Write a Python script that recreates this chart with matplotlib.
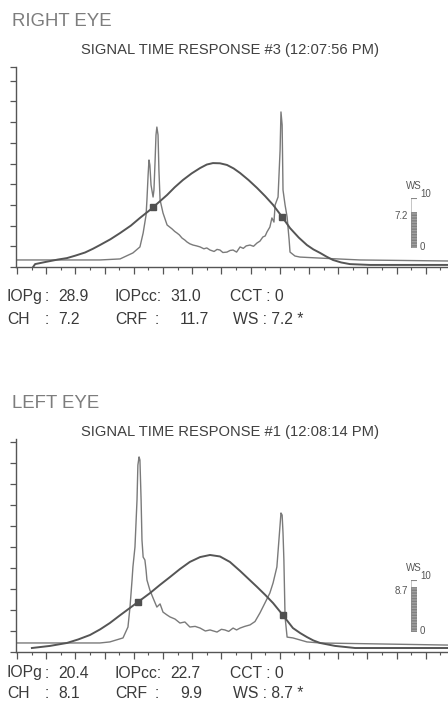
import matplotlib
matplotlib.use("Agg")
import matplotlib.pyplot as plt
from matplotlib.patches import Rectangle
from matplotlib.ticker import MultipleLocator

plt.rcParams['font.family'] = ['Liberation Sans', 'DejaVu Sans']

W, H = 448, 703

# ---------------- RIGHT EYE data ----------------
r_sig_t = [0.00, 1.47, 2.84, 3.53, 3.97, 4.21, 4.32, 4.42, 4.45, 4.49, 4.52, 4.55, 4.59, 4.66,
           4.69, 4.73, 4.76, 4.79, 4.83, 4.86, 4.90, 5.00, 5.14, 5.31, 5.40, 5.48, 5.56, 5.65,
           5.75, 5.82, 5.92, 6.03, 6.15, 6.27, 6.40, 6.50, 6.61, 6.75, 6.85, 6.95, 7.05, 7.19,
           7.30, 7.40, 7.52, 7.64, 7.75, 7.85, 7.98, 8.10, 8.22, 8.32, 8.42, 8.50, 8.56, 8.66,
           8.73, 8.80, 8.84, 8.94, 9.01, 9.04, 9.08, 9.11, 9.18, 9.25, 9.32, 9.35, 9.52, 9.69,
           10.38, 11.75, 14.76]
r_sig_v = [0.34, 0.34, 0.34, 0.39, 0.68, 0.97, 1.64, 2.51, 3.24, 4.44, 5.17, 4.93, 3.96, 3.38,
           3.72, 5.17, 6.38, 6.76, 6.38, 4.69, 3.24, 2.61, 2.03, 1.84, 1.72, 1.64, 1.55, 1.40,
           1.30, 1.21, 1.12, 1.06, 1.02, 0.97, 0.88, 0.92, 0.82, 0.75, 0.85, 0.82, 0.70, 0.72,
           0.80, 0.82, 0.72, 0.97, 0.90, 1.02, 1.06, 1.00, 1.16, 1.25, 1.45, 1.50, 1.69, 1.93,
           2.37, 2.17, 3.00, 3.38, 5.65, 7.49, 6.86, 3.72, 3.00, 2.42, 1.30, 0.72, 0.53, 0.48,
           0.43, 0.34, 0.29]
r_pres_t = [0.55, 0.62, 1.00, 1.40, 1.71, 2.00, 2.33, 2.60, 2.84, 3.20, 3.53, 3.90, 4.21,
            4.55, 4.85, 5.14, 5.40, 5.68, 5.98, 6.27, 6.50, 6.71, 6.95, 7.19, 7.42, 7.64,
            7.93, 8.22, 8.50, 8.77, 9.08, 9.35, 9.65, 9.93, 10.15, 10.38, 10.60, 10.82,
            11.10, 11.40, 12.09, 14.76]
r_pres_v = [0.00, 0.14, 0.25, 0.36, 0.43, 0.55, 0.70, 0.88, 1.06, 1.34, 1.64, 2.00, 2.37,
            2.75, 3.12, 3.48, 3.85, 4.20, 4.52, 4.78, 4.95, 5.02, 5.01, 4.93, 4.76, 4.54,
            4.20, 3.82, 3.42, 3.00, 2.42, 1.88, 1.42, 1.06, 0.85, 0.68, 0.50, 0.34,
            0.22, 0.14, 0.10, 0.10]
r_marker_t = [4.66, 9.08]
r_marker_v = [2.88, 2.42]
r_ws = 7.2
r_header = "RIGHT EYE"
r_title = "SIGNAL TIME RESPONSE #3 (12:07:56 PM)"
r_values = [["28.9", "31.0", "0"], ["7.2", "11.7", "7.2 *"]]

# ---------------- LEFT EYE data ----------------
l_sig_t = [0.00, 1.47, 2.84, 3.18, 3.63, 3.80, 3.87, 3.94, 3.97, 4.04, 4.11, 4.14, 4.18, 4.21,
           4.25, 4.28, 4.32, 4.38, 4.42, 4.45, 4.55, 4.66, 4.79, 4.90, 5.00, 5.14, 5.24, 5.41,
           5.58, 5.75, 5.92, 6.10, 6.27, 6.45, 6.61, 6.85, 7.00, 7.12, 7.25, 7.40, 7.52, 7.64,
           7.80, 7.98, 8.15, 8.32, 8.49, 8.66, 8.77, 8.90, 8.97, 9.04, 9.08, 9.11, 9.14, 9.18,
           9.25, 9.45, 9.93, 10.38, 14.76]
l_sig_v = [0.43, 0.43, 0.43, 0.48, 0.67, 1.19, 2.14, 3.43, 4.05, 5.00, 7.24, 8.90, 9.29, 9.14,
           7.24, 5.33, 4.52, 4.38, 3.90, 3.43, 2.95, 2.57, 2.14, 2.29, 1.90, 1.76, 1.67, 1.57,
           1.38, 1.43, 1.19, 1.22, 1.14, 1.00, 1.05, 0.95, 1.08, 1.05, 0.98, 1.14, 1.05, 1.14,
           1.22, 1.29, 1.45, 1.86, 2.33, 2.81, 3.29, 4.05, 5.33, 6.62, 6.52, 5.67, 4.38, 1.67,
           0.71, 0.67, 0.48, 0.43, 0.33]
l_pres_t = [0.51, 1.13, 1.71, 2.10, 2.50, 2.85, 3.18, 3.52, 3.87, 4.21, 4.55, 4.90, 5.24,
            5.58, 5.92, 6.27, 6.61, 6.95, 7.29, 7.64, 7.93, 8.22, 8.50, 8.77, 9.08, 9.45,
            9.70, 9.93, 10.15, 10.38, 10.89, 11.58, 14.76]
l_pres_v = [0.19, 0.29, 0.43, 0.60, 0.81, 1.08, 1.38, 1.74, 2.10, 2.45, 2.80, 3.20, 3.57,
            3.95, 4.29, 4.52, 4.62, 4.55, 4.29, 3.86, 3.48, 3.10, 2.72, 2.33, 1.80, 1.14,
            0.90, 0.71, 0.55, 0.43, 0.29, 0.19, 0.19]
l_marker_t = [4.14, 9.11]
l_marker_v = [2.38, 1.75]
l_ws = 8.7
l_header = "LEFT EYE"
l_title = "SIGNAL TIME RESPONSE #1 (12:08:14 PM)"
l_values = [["20.4", "22.7", "0"], ["8.1", "9.9", "8.7 *"]]

fig = plt.figure(figsize=(W / 100, H / 100), dpi=100)
fig.patch.set_facecolor('white')


def fx(x):
    return x / W


def fy(y):
    return 1 - y / H


AX_COL = '#555555'
TXT_COL = '#3a3a3a'
FS = 11.3


def put(x, y, s, **kw):
    fig.text(fx(x), fy(y), s, fontsize=FS, color=TXT_COL, ha='left', va='center', **kw)


def panel(y_top, y_zero, unit_px, sig_t, sig_v, pres_t, pres_v, mk_t, mk_v,
          header, header_y, title, title_y, values, text_y, ws, gauge):
    ax = fig.add_axes([fx(16), fy(y_zero), 1 - fx(16), (y_zero - y_top) / H])
    x_unit = 29.2
    y_max = (y_zero - y_top) / unit_px
    ax.set_xlim(-1 / x_unit, (W - 17) / x_unit)
    ax.set_ylim(0, y_max)
    ax.plot(sig_t, sig_v, color='#7a7a7a', lw=1.0)
    ax.plot(pres_t, pres_v, color='#555555', lw=1.4)
    ax.plot(mk_t, mk_v, ls='none', marker='s', ms=4, color='#505050')
    for s in ['top', 'right']:
        ax.spines[s].set_visible(False)
    for s in ['left', 'bottom']:
        ax.spines[s].set_color(AX_COL)
        ax.spines[s].set_linewidth(1.0)
    ax.xaxis.set_major_locator(MultipleLocator(1))
    ax.xaxis.set_minor_locator(MultipleLocator(0.5))
    yt = list(range(0, int(y_max) + 1))
    if y_max - yt[-1] > 0.3:
        yt.append(y_max)
    ax.set_yticks(yt)
    ax.tick_params(axis='x', which='major', length=5, width=0.9, color=AX_COL,
                   labelbottom=False, direction='out')
    ax.tick_params(axis='x', which='minor', length=2.5, width=0.8, color=AX_COL)
    ax.tick_params(axis='y', which='major', length=4, width=0.9, color=AX_COL,
                   labelleft=False, direction='out')
    ax.set_facecolor('none')

    fig.text(fx(12), fy(header_y), header, fontsize=13.4, color='#7d7d7d',
             ha='left', va='center')
    fig.text(fx(230), fy(title_y), title, fontsize=10.6, color='#404040',
             ha='center', va='center')

    y1, y2 = text_y
    put(7, y1, "IOPg")
    put(45, y1, ":")
    put(58, y1, values[0][0])
    put(115, y1, "IOPcc:")
    put(170, y1, values[0][1])
    put(230, y1, "CCT : " + values[0][2])
    put(7, y2, "CH")
    put(45, y2, ":")
    put(58, y2, values[1][0])
    put(115, y2, "CRF")
    put(155, y2, ":")
    put(180, y2, values[1][1])
    put(233, y2, "WS : " + values[1][2])

    # WS gauge
    g_top, g_bot = gauge
    gax = fig.add_axes([fx(411), fy(g_bot), 6 / W, (g_bot - g_top) / H])
    gax.set_xlim(0, 1)
    gax.set_ylim(0, 10)
    gax.axis('off')
    gax.add_patch(Rectangle((0.05, 0), 0.9, 10, fill=False, ec='#bbbbbb', lw=0.6))
    gax.bar([0.5], [ws], width=0.9, color='#a0a0a0', edgecolor='#808080',
            hatch='------', lw=0.5)
    gax.plot([0.05, 0.95], [10, 10], color='#888888', lw=0.8)
    fs = 7
    fig.text(fx(414), fy(g_top - 12), "WS", fontsize=fs, color='#555555',
             ha='center', va='center')
    fig.text(fx(420), fy(g_top - 4), "10", fontsize=fs, color='#555555',
             ha='left', va='center')
    fig.text(fx(408), fy(g_bot - ws / 10 * (g_bot - g_top) + 4), f"{ws}", fontsize=fs,
             color='#555555', ha='right', va='center')
    fig.text(fx(420), fy(g_bot - 1), "0", fontsize=fs, color='#555555',
             ha='left', va='center')


panel(67, 267, 20.7, r_sig_t, r_sig_v, r_pres_t, r_pres_v, r_marker_t, r_marker_v,
      r_header, 22, r_title, 50, r_values, [297, 320], r_ws, (198, 248))
panel(439, 652, 21.0, l_sig_t, l_sig_v, l_pres_t, l_pres_v, l_marker_t, l_marker_v,
      l_header, 403, l_title, 432, l_values, [673, 693], l_ws, (580, 632))

fig.savefig("out.png", dpi=100, facecolor='white')
